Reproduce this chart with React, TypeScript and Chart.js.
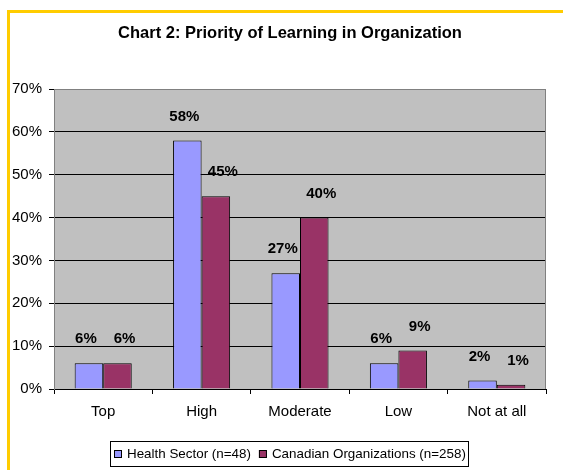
import React, { useEffect, useRef } from "react";
import { Chart, registerables } from "chart.js";

Chart.register(...registerables);

const title = "Chart 2: Priority of Learning in Organization";
const categories = ["Top", "High", "Moderate", "Low", "Not at all"];
const healthLabel = "Health Sector (n=48)";
const canadianLabel = "Canadian Organizations (n=258)";
const healthSector = [6, 58, 27, 6, 2];
const canadianOrgs = [6, 45, 40, 9, 1];
const yMin = 0;
const yMax = 70;
const yStep = 10;

const FONT = "'Liberation Sans', Arial, sans-serif";
const HEALTH_COLOR = "#9999FF";
const CANADIAN_COLOR = "#993366";

const framePlugin = {
  id: "frame",
  beforeDraw(chart: any) {
    const { ctx, chartArea } = chart;
    ctx.save();
    ctx.fillStyle = "#FFFFFF";
    ctx.fillRect(0, 0, chart.width, chart.height);
    ctx.fillStyle = "#FFCC00";
    ctx.fillRect(7, 10, chart.width - 7, 3);
    ctx.fillRect(7, 10, 3, chart.height - 10);
    ctx.fillStyle = "#C0C0C0";
    ctx.fillRect(chartArea.left, chartArea.top, chartArea.right - chartArea.left, chartArea.bottom - chartArea.top);
    ctx.fillStyle = "#000000";
    ctx.font = `bold 16.5px ${FONT}`;
    ctx.textAlign = "center";
    ctx.textBaseline = "middle";
    ctx.fillText(title, 290, 33);
    ctx.restore();
  },
  afterDraw(chart: any) {
    const { ctx, chartArea } = chart;
    ctx.save();
    ctx.strokeStyle = "#808080";
    ctx.lineWidth = 1;
    ctx.beginPath();
    ctx.moveTo(Math.round(chartArea.right) - 0.5, chartArea.top);
    ctx.lineTo(Math.round(chartArea.right) - 0.5, chartArea.bottom);
    ctx.stroke();

    // legend
    const bx = 110.5, by = 441.5, bw = 358, bh = 25;
    ctx.fillStyle = "#FFFFFF";
    ctx.fillRect(bx, by, bw, bh);
    ctx.strokeStyle = "#000000";
    ctx.strokeRect(bx, by, bw, bh);
    ctx.font = `13.4px ${FONT}`;
    ctx.textBaseline = "middle";
    ctx.textAlign = "left";
    const cy = by + bh / 2;
    const items = [
      { label: healthLabel, color: HEALTH_COLOR },
      { label: canadianLabel, color: CANADIAN_COLOR },
    ];
    let x = 114;
    items.forEach((it) => {
      ctx.fillStyle = it.color;
      ctx.fillRect(x, cy - 4, 8, 8);
      ctx.strokeStyle = "#000000";
      ctx.strokeRect(x + 0.5, cy - 3.5, 7, 7);
      ctx.fillStyle = "#000000";
      ctx.fillText(it.label, x + 13, cy);
      x += 13 + ctx.measureText(it.label).width + 8;
    });

    // data labels
    ctx.font = `bold 15px ${FONT}`;
    ctx.textAlign = "center";
    ctx.textBaseline = "middle";
    ctx.fillStyle = "#000000";
    const offsets = [-3, 7];
    chart.data.datasets.forEach((ds: any, di: number) => {
      const meta = chart.getDatasetMeta(di);
      meta.data.forEach((el: any, i: number) => {
        ctx.fillText(`${ds.data[i]}%`, el.x + offsets[di], el.y - 24);
      });
    });
    ctx.restore();
  },
};

export default function App() {
  const ref = useRef<HTMLCanvasElement | null>(null);
  useEffect(() => {
    if (!ref.current) return;
    const chart = new Chart(ref.current, {
      type: "bar",
      data: {
        labels: categories,
        datasets: [
          {
            label: healthLabel,
            data: healthSector,
            backgroundColor: HEALTH_COLOR,
            borderColor: "#000000",
            borderWidth: 1,
            categoryPercentage: 0.58,
            barPercentage: 1.0,
          },
          {
            label: canadianLabel,
            data: canadianOrgs,
            backgroundColor: CANADIAN_COLOR,
            borderColor: "#000000",
            borderWidth: 1,
            categoryPercentage: 0.58,
            barPercentage: 1.0,
          },
        ],
      },
      options: {
        responsive: false,
        animation: false,
        devicePixelRatio: 1,
        layout: { padding: { left: 0, top: 89, right: 17, bottom: 0 } },
        plugins: {
          legend: { display: false },
          title: { display: false },
          tooltip: { enabled: false },
        },
        scales: {
          x: {
            afterFit: (s: any) => {
              s.height = 81;
            },
            grid: {
              display: true,
              drawOnChartArea: false,
              drawTicks: true,
              tickLength: 5,
              color: "#000000",
              offset: true,
            },
            border: { display: true, color: "#000000", width: 1 },
            ticks: {
              color: "#000000",
              padding: 9,
              font: { family: FONT, size: 15 },
              maxRotation: 0,
              autoSkip: false,
            },
          },
          y: {
            min: yMin,
            max: yMax,
            afterFit: (s: any) => {
              s.width = 54;
            },
            grid: {
              color: (c: any) => (c.tick && c.tick.value === yMax ? "#808080" : "#000000"),
              tickColor: "#000000",
              tickLength: 5,
              drawTicks: true,
            },
            border: { display: true, color: "#808080", width: 1 },
            ticks: {
              stepSize: yStep,
              color: "#000000",
              padding: 7,
              font: { family: FONT, size: 15 },
              callback: (v: any) => `${v}%`,
            },
          },
        },
      },
      plugins: [framePlugin],
    });
    return () => chart.destroy();
  }, []);
  return (
    <canvas
      ref={ref}
      width={563}
      height={470}
      style={{ position: "absolute", left: 0, top: 0, width: 563, height: 470 }}
    />
  );
}
